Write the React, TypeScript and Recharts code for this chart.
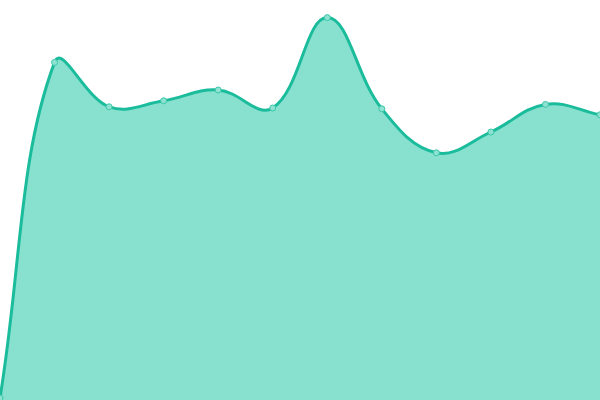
import { Area, AreaChart, XAxis, YAxis } from 'recharts'

const months = ['Jan', 'Feb', 'Mar', 'Apr', 'May', 'Jun', 'Jul', 'Aug', 'Sep', 'Oct', 'Nov', 'Dec']
const values = [0.5, 84.4, 73.3, 74.8, 77.5, 73, 95.6, 72.8, 61.8, 67, 73.9, 71.3]

const data = months.map((month, i) => ({ month, value: values[i] }))

const TENSION = 0.4

// tension spline: control points from neighbour distances, drawn at lineEnd
function splineCurve(context: any) {
  let xs: number[] = []
  let ys: number[] = []
  let line = NaN
  return {
    areaStart() {
      line = 0
    },
    areaEnd() {
      line = NaN
    },
    lineStart() {
      xs = []
      ys = []
    },
    lineEnd() {
      const n = xs.length
      if (n) {
        if (line) context.lineTo(xs[0], ys[0])
        else context.moveTo(xs[0], ys[0])
        const cps = xs.map((x, i) => {
          const px = xs[Math.max(i - 1, 0)]
          const py = ys[Math.max(i - 1, 0)]
          const nx = xs[Math.min(i + 1, n - 1)]
          const ny = ys[Math.min(i + 1, n - 1)]
          const y = ys[i]
          const d01 = Math.hypot(x - px, y - py)
          const d12 = Math.hypot(nx - x, ny - y)
          const s01 = d01 + d12 ? d01 / (d01 + d12) : 0
          const s12 = d01 + d12 ? d12 / (d01 + d12) : 0
          const fa = TENSION * s01
          const fb = TENSION * s12
          return {
            prevX: x - fa * (nx - px),
            prevY: y - fa * (ny - py),
            nextX: x + fb * (nx - px),
            nextY: y + fb * (ny - py),
          }
        })
        for (let i = 1; i < n; i++) {
          context.bezierCurveTo(cps[i - 1].nextX, cps[i - 1].nextY, cps[i].prevX, cps[i].prevY, xs[i], ys[i])
        }
      }
      if (line || (line !== 0 && n === 1)) context.closePath()
      line = 1 - line
    },
    point(x: number, y: number) {
      xs.push(+x)
      ys.push(+y)
    },
  }
}

export default function App() {
  return (
    <div style={{ position: 'absolute', left: 0, top: 0, width: 600, height: 400 }}>
      <AreaChart width={600} height={400} data={data} margin={{ top: 0, right: 0, bottom: 0, left: 0 }}>
        <XAxis dataKey="month" hide padding={{ left: 0, right: 0 }} />
        <YAxis hide domain={[0, 100]} />
        <Area
          type={splineCurve as any}
          dataKey="value"
          stroke="#1abc9c"
          strokeWidth={3}
          fill="#88e0cf"
          fillOpacity={1}
          dot={{ r: 3, fill: '#8fe2d2', stroke: '#3cc8a9', strokeWidth: 1, fillOpacity: 1 }}
          activeDot={false}
          isAnimationActive={false}
        />
      </AreaChart>
    </div>
  )
}
